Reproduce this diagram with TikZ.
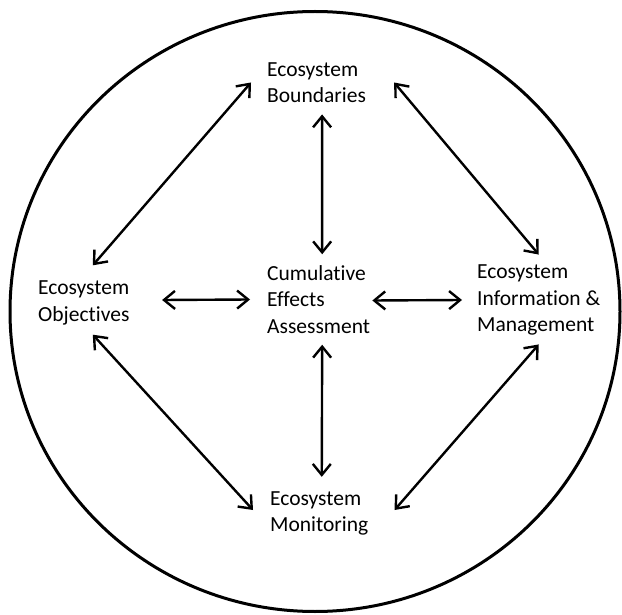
\documentclass[tikz,border=0pt]{standalone}
\usepackage{fontspec}
\setmainfont{Carlito}[Ligatures=NoCommon]
\usepackage{tikz}
\usetikzlibrary{arrows.meta, calc}

\begin{document}
\begin{tikzpicture}[x=1pt, y=-1pt,
    termbox/.style={inner sep=0pt, anchor=west, align=left, font=\fontsize{21.5}{26.5}\selectfont},
    dblarrow/.style={line width=2.4pt, {Straight Barb[length=11pt,width=18pt]}-{Straight Barb[length=11pt,width=18pt]}}]
  \useasboundingbox (0,0) rectangle (622,615);

  % outer circle
  \draw[line width=3pt] (315,311.5) ellipse [x radius=305, y radius=300];

  % terms
  \node[termbox] (bnd) at (267, 82.5) {Ecosystem\\Boundaries};
  \node[termbox] (obj) at (38, 303) {Ecosystem\\Objectives};
  \node[termbox] (cea) at (267, 299.5) {Cumulative\\Effects\\Assessment};
  \node[termbox] (inf) at (477, 300) {Ecosystem\\Information \&\\Management};
  \node[termbox] (mon) at (270, 513.5) {Ecosystem\\Monitoring};

  % links to the centre
  \draw[dblarrow] ([xshift=5.5pt, yshift=-11.5pt]bnd.south) -- ([xshift=3.5pt, yshift=11pt]cea.north);
  \draw[dblarrow] ([xshift=3.5pt, yshift=-11pt]cea.south) -- ([xshift=2.5pt, yshift=14.5pt]mon.north);
  \draw[dblarrow] ([xshift=32.5pt, yshift=3pt]obj.east) -- ([xshift=-17pt]cea.west);
  \draw[dblarrow] ([xshift=2pt, yshift=-1pt]cea.east) -- ([xshift=-15pt]inf.west);

  % links round the ring
  \draw[dblarrow] ([xshift=-16pt]bnd.west) -- ([xshift=9pt, yshift=15.5pt]obj.north);
  \draw[dblarrow] ([xshift=28pt]bnd.east) -- ([xshift=0pt, yshift=10pt]inf.north);
  \draw[dblarrow] ([xshift=9pt, yshift=-9.5pt]obj.south) -- ([xshift=-17pt, yshift=3.5pt]mon.west);
  \draw[dblarrow] ([xshift=0pt, yshift=-9pt]inf.south) -- ([xshift=26pt, yshift=3.5pt]mon.east);
\end{tikzpicture}
\end{document}
